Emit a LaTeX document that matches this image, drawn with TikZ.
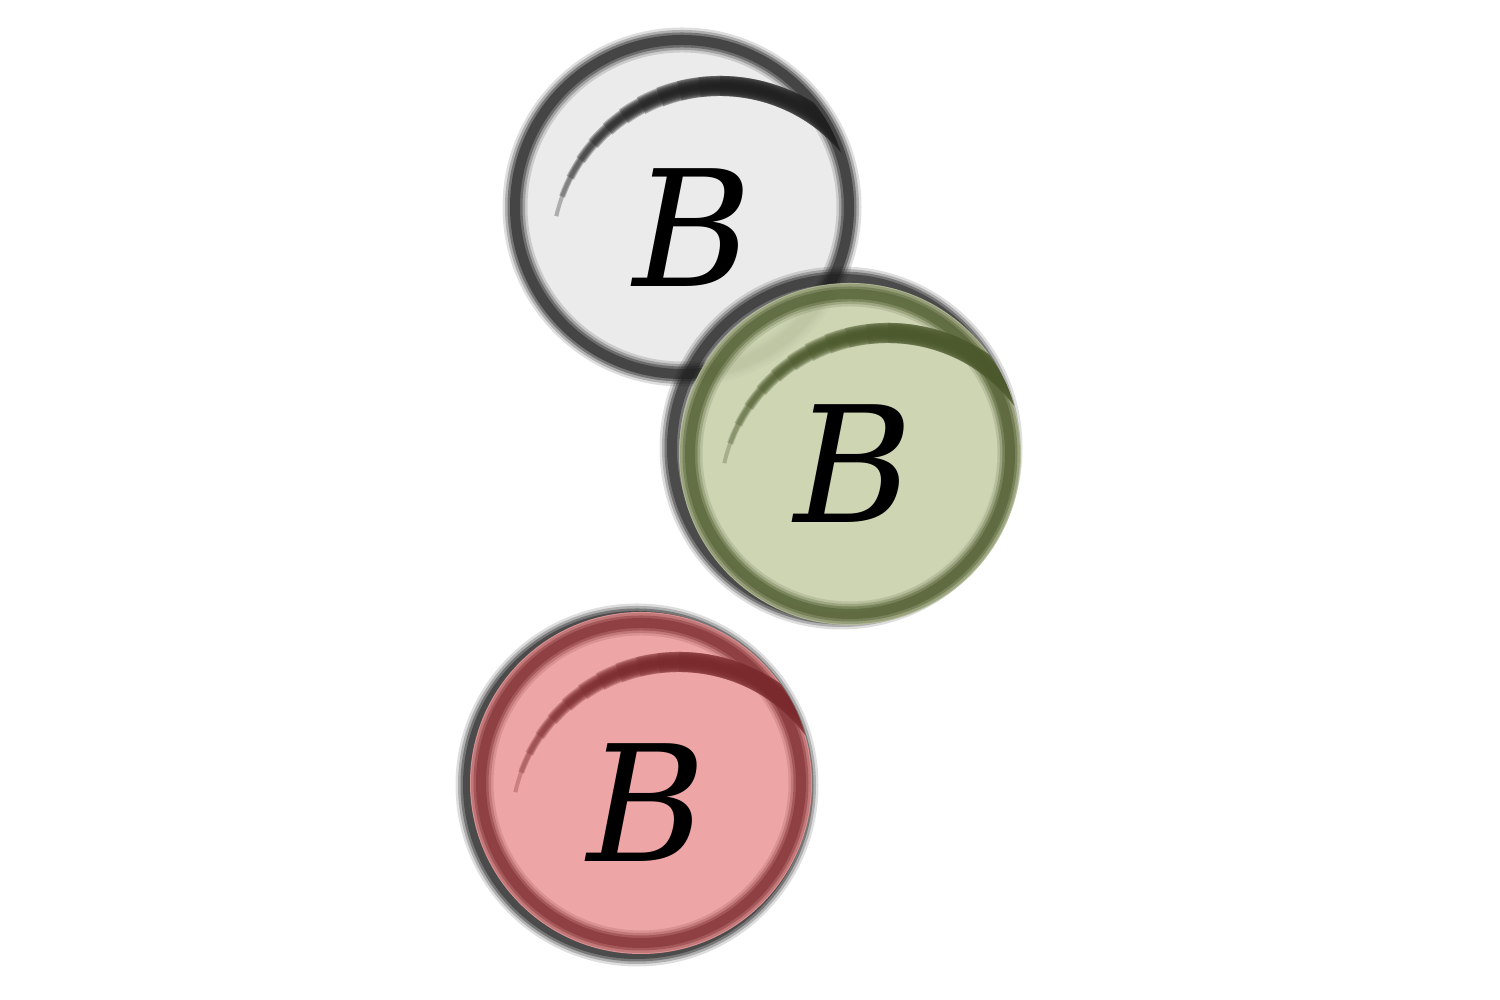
\documentclass[tikz,border=0pt]{standalone}
\usepackage{fontspec}
\setmainfont{DejaVu Serif}
\usetikzlibrary{positioning}

\definecolor{grigio}{HTML}{EBEBEB}
\definecolor{verde}{HTML}{C9D1AD}
\definecolor{verdescuro}{HTML}{4B582B}
\definecolor{rosa}{HTML}{EDA5A6}
\definecolor{rossoscuro}{HTML}{7A2A2C}
\definecolor{matita}{HTML}{202020}

\tikzset{
  lettera/.style={inner sep=0pt, font=\fontsize{46}{50}\selectfont\itshape},
}

% anello a matita: centro, raggio, colore
\newcommand{\anello}[3]{%
  \foreach \w/\o in {0.25/0.15,0.20/0.25,0.15/0.4,0.10/0.5}
    \draw[draw=#3, line width=\w cm, opacity=\o] (#1) circle (#2);
}
% tratto interno in alto a sinistra
\newcommand{\tratto}[3]{%
  \foreach \a in {167,160,...,90}{
    \pgfmathsetmacro{\w}{min(0.2,0.04+(167-\a)*0.003)}
    \draw[draw=#3, line width=\w cm, opacity=0.3]
      (#1) ++(0.38,-0.47) ++(\a:#2) arc[start angle=\a, end angle=30, radius=#2];
  }
}

\begin{document}
\begin{tikzpicture}
\useasboundingbox (0,0) rectangle (15,10);

\coordinate (cg) at (6.82,7.93);
\coordinate (cv) at (8.41,5.52);
\coordinate (dv) at (8.50,5.46);
\coordinate (cr) at (6.37,2.15);
\coordinate (dr) at (6.41,2.17);

% cerchio grigio
\fill[grigio] (cg) circle (1.72);
\anello{cg}{1.67}{matita}
\begin{scope}
  \clip (cg) circle (1.68);
  \tratto{cg}{1.68}{matita}
\end{scope}
\node[lettera] (bg) at (6.93,7.72) {B};

% cerchio verde
\anello{cv}{1.69}{matita}
\fill[verde, opacity=0.92] (dv) circle (1.71);
\begin{scope}
  \clip (dv) circle (1.71);
  \anello{dv}{1.60}{verdescuro}
  \tratto{dv}{1.68}{verdescuro}
\end{scope}
\node[lettera] (bv) at (8.54,5.36) {B};

% cerchio rosso
\anello{cr}{1.69}{matita}
\fill[rosa] (dr) circle (1.71);
\begin{scope}
  \clip (dr) circle (1.71);
  \anello{dr}{1.60}{rossoscuro}
  \tratto{dr}{1.68}{rossoscuro}
\end{scope}
\node[lettera] (br) at (6.47,1.97) {B};
\end{tikzpicture}
\end{document}
